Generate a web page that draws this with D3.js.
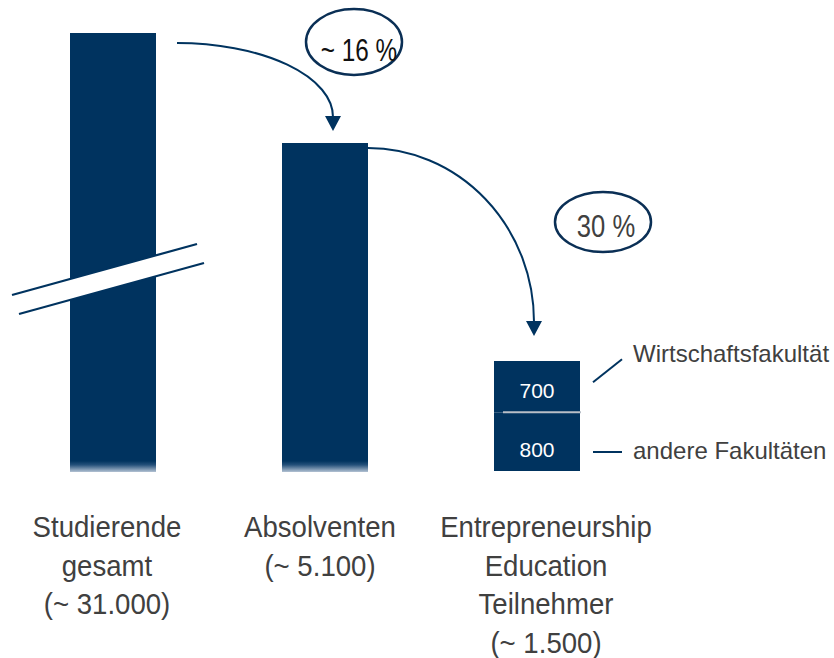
<!DOCTYPE html>
<html lang="de">
<head>
<meta charset="UTF-8">
<title>Entrepreneurship Education</title>
<script src="https://d3js.org/d3.v7.min.js"></script>
<style>
  body { margin: 0; background: #fff; }
  text { font-family: "Liberation Sans", Arial, sans-serif; }
</style>
</head>
<body>
<svg width="834" height="658"></svg>
<script>
    // data
    const categories = ["Studierende gesamt", "Absolventen", "Entrepreneurship Education Teilnehmer"];
    const labelLines = [
        ["Studierende", "gesamt", "(~ 31.000)"],
        ["Absolventen", "(~ 5.100)"],
        ["Entrepreneurship", "Education", "Teilnehmer", "(~ 1.500)"]
    ];
    const totals = [31000, 5100, 1500];
    const segmentNames = ["andere Fakultäten", "Wirtschaftsfakultät"];
    const segmentValues = [800, 700];
    const rates = ["~ 16 %", "30 %"];

    const navy = "#00335f";
    const svg = d3.select("svg");

    const x = d3.scaleBand().domain(categories).range([70, 580]).paddingInner(126 / 212);
    // broken axis: piecewise linear scale
    const y = d3.scaleLinear().domain([0, 1500, 5100, 31000]).range([471, 361, 143, 33]);
    const bw = x.bandwidth();

    const defs = svg.append("defs");
    const grad = defs.append("linearGradient").attr("id", "fade")
        .attr("gradientUnits", "userSpaceOnUse")
        .attr("x1", 0).attr("x2", 0).attr("y1", 461).attr("y2", 472);
    grad.append("stop").attr("offset", 0).attr("stop-color", navy);
    grad.append("stop").attr("offset", 0.35).attr("stop-color", "#24507a");
    grad.append("stop").attr("offset", 1).attr("stop-color", "#b3c2d3");

    // bars 1 and 2
    svg.append("g").selectAll("rect")
        .data(totals.slice(0, 2))
        .join("rect")
        .attr("x", (d, i) => x(categories[i]))
        .attr("y", d => y(d))
        .attr("width", bw)
        .attr("height", d => y(0) + 1 - y(d))
        .attr("fill", "url(#fade)");

    // stacked bar 3
    let acc = 0;
    const segs = segmentValues.map(v => { const s = {lo: acc, hi: acc + v, v: v}; acc += v; return s; });
    const x3 = x(categories[2]);
    svg.append("g").selectAll("rect")
        .data(segs)
        .join("rect")
        .attr("x", x3)
        .attr("y", d => y(d.hi))
        .attr("width", bw)
        .attr("height", d => y(d.lo) - y(d.hi))
        .attr("fill", navy);
    svg.append("line")
        .attr("x1", x3 + 9).attr("x2", x3 + bw + 1)
        .attr("y1", y(segs[0].hi)).attr("y2", y(segs[0].hi))
        .attr("stroke", "#b9bfc7").attr("stroke-width", 2);
    svg.append("g").selectAll("text")
        .data(segs)
        .join("text")
        .attr("x", x3 + bw / 2)
        .attr("y", d => y(d.lo) - 14)
        .attr("text-anchor", "middle")
        .attr("font-size", 21)
        .attr("fill", "#fff")
        .text(d => d.v);

    // segment annotations
    const ax = x3 + bw + 13;
    svg.append("line")
        .attr("x1", ax).attr("y1", y(0) - 19).attr("x2", ax + 29).attr("y2", y(0) - 19)
        .attr("stroke", navy).attr("stroke-width", 2);
    svg.append("line")
        .attr("x1", ax).attr("y1", y(segs[0].hi) - 30).attr("x2", ax + 29).attr("y2", y(segs[0].hi) - 53)
        .attr("stroke", navy).attr("stroke-width", 2);
    svg.append("text").attr("x", ax + 40).attr("y", y(0) - 12)
        .attr("font-size", 24).attr("fill", "#404040").text(segmentNames[0]);
    svg.append("text").attr("x", ax + 40).attr("y", y(segs[0].hi) - 50)
        .attr("font-size", 24).attr("fill", "#404040").text(segmentNames[1]);

    // axis break on first bar
    const brk = svg.append("g");
    brk.append("polygon")
        .attr("points", "12,295 197,244 204,263 19,314")
        .attr("fill", "#fff");
    brk.append("line").attr("x1", 12).attr("y1", 295).attr("x2", 197).attr("y2", 244)
        .attr("stroke", navy).attr("stroke-width", 2.2);
    brk.append("line").attr("x1", 19).attr("y1", 314).attr("x2", 204).attr("y2", 263)
        .attr("stroke", navy).attr("stroke-width", 2.2);

    // arrows
    function arrow(x0, y0, x1, tipY) {
        const endY = tipY - 14;
        svg.append("path")
            .attr("d", `M${x0},${y0} A${x1 - x0},${endY - y0} 0 0 1 ${x1},${endY}`)
            .attr("fill", "none").attr("stroke", navy).attr("stroke-width", 2);
        svg.append("path")
            .attr("d", `M${x1 - 8},${endY - 1} L${x1 + 8},${endY - 1} L${x1},${tipY} Z`)
            .attr("fill", navy);
    }
    arrow(x(categories[0]) + bw + 21, y(totals[0]) + 10, x(categories[1]) + bw / 2 + 8, y(totals[1]) - 12);
    arrow(x(categories[1]) + bw, y(totals[1]) + 5, x(categories[2]) + bw / 2 - 3, y(totals[2]) - 25);

    // rate bubbles
    const bubbles = [
        {cx: 354, cy: 42, rx: 48, ry: 33, tx: 359, ty: 61, sx: 0.76, color: "#111"},
        {cx: 603, cy: 222, rx: 48, ry: 30, tx: 606, ty: 237, sx: 0.8, color: "#404040"}
    ];
    const bg = svg.append("g").selectAll("g").data(bubbles).join("g");
    bg.append("ellipse")
        .attr("cx", d => d.cx).attr("cy", d => d.cy)
        .attr("rx", d => d.rx).attr("ry", d => d.ry)
        .attr("fill", "#fff").attr("stroke", "#0a2f55").attr("stroke-width", 2.5);
    bg.append("text")
        .attr("transform", d => `translate(${d.tx},${d.ty}) scale(${d.sx},1)`)
        .attr("text-anchor", "middle")
        .attr("font-size", 32)
        .attr("fill", d => d.color)
        .text((d, i) => rates[i]);

    // category labels
    const labelX = [107, 320, 546];
    svg.append("g").selectAll("g")
        .data(labelLines)
        .join("g")
        .each(function(lines, i) {
            d3.select(this).selectAll("text")
                .data(lines)
                .join("text")
                .attr("transform", (t, j) => `translate(${labelX[i]},${537 + j * 38.6}) scale(0.92,1)`)
                .attr("text-anchor", "middle")
                .attr("font-size", 30)
                .attr("fill", "#404040")
                .text(t => t);
        });
</script>
</body>
</html>
